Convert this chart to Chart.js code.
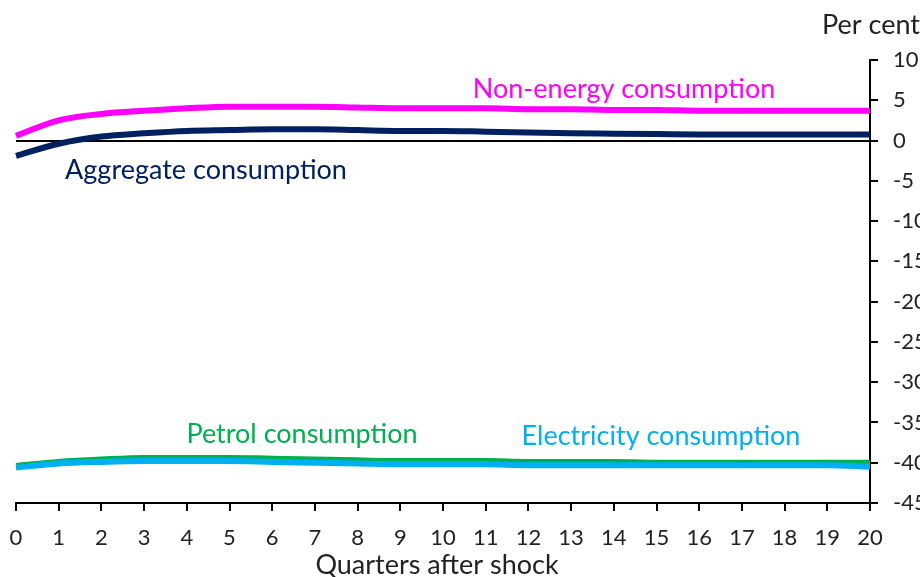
<!DOCTYPE html>
<html>
<head>
<meta charset="utf-8">
<script src="https://cdn.jsdelivr.net/npm/chart.js@4"></script>
<style>
  body { margin: 0; background: #fff; }
  #wrap { width: 920px; height: 577px; }
</style>
</head>
<body>
<div id="wrap"><canvas id="chart" width="920" height="577"></canvas></div>
<script>
// Quarters after shock
const quarters = ["0","1","2","3","4","5","6","7","8","9","10","11","12","13","14","15","16","17","18","19","20"];

// Per cent deviation
const nonEnergy   = [0.6, 2.5, 3.3, 3.7, 4.0, 4.2, 4.2, 4.2, 4.1, 4.0, 4.0, 4.0, 3.9, 3.9, 3.8, 3.8, 3.7, 3.7, 3.7, 3.7, 3.7];
const aggregate   = [-1.9, -0.4, 0.5, 0.9, 1.2, 1.3, 1.4, 1.4, 1.3, 1.2, 1.2, 1.1, 1.0, 0.9, 0.85, 0.8, 0.75, 0.75, 0.75, 0.75, 0.75];
const petrol      = [-40.4, -39.9, -39.6, -39.4, -39.4, -39.4, -39.5, -39.6, -39.7, -39.8, -39.8, -39.8, -39.9, -39.9, -39.9, -40.0, -40.0, -40.0, -40.0, -40.0, -40.0];
const electricity = [-40.6, -40.1, -39.9, -39.8, -39.8, -39.8, -39.9, -40.0, -40.1, -40.2, -40.2, -40.2, -40.3, -40.3, -40.3, -40.3, -40.3, -40.3, -40.3, -40.3, -40.5];

const yTicks = [10, 5, 0, -5, -10, -15, -20, -25, -30, -35, -40, -45];

const FONT = "Lato, 'Open Sans', sans-serif";

// texte sur le graphique (étiquettes des séries, titres)
const labelsPlugin = {
    id: "labels",
    afterDraw(chart) {
        const ctx = chart.ctx;
        ctx.save();
        ctx.textBaseline = "middle";
        ctx.font = "27px " + FONT;
        ctx.textAlign = "center";
        ctx.fillStyle = "#FF00FF";
        ctx.fillText("Non-energy consumption", 624, 89);
        ctx.fillStyle = "#002060";
        ctx.fillText("Aggregate consumption", 206, 170);
        ctx.fillStyle = "#00B050";
        ctx.fillText("Petrol consumption", 302, 434);
        ctx.fillStyle = "#00B0F0";
        ctx.fillText("Electricity consumption", 661, 436);
        ctx.fillStyle = "#222";
        ctx.fillText("Quarters after shock", 437, 565);
        ctx.textAlign = "left";
        ctx.fillText("Per cent", 822, 25);
        ctx.restore();
    }
};

const ctx = document.getElementById("chart").getContext("2d");
new Chart(ctx, {
    type: "line",
    data: {
        labels: quarters,
        datasets: [
            { label: "Non-energy consumption", data: nonEnergy, borderColor: "#FF00FF" },
            { label: "Aggregate consumption", data: aggregate, borderColor: "#002060" },
            { label: "Electricity consumption", data: electricity, borderColor: "#00B0F0" },
            { label: "Petrol consumption", data: petrol, borderColor: "#00B050" }
        ]
    },
    options: {
        responsive: false,
        animation: false,
        layout: { padding: { left: 16, top: 60, right: 0, bottom: 0 } },
        elements: {
            line: { borderWidth: 6, tension: 0.4, cubicInterpolationMode: "monotone" },
            point: { radius: 0 }
        },
        plugins: {
            legend: { display: false },
            tooltip: { enabled: false }
        },
        scales: {
            x: {
                offset: false,
                grid: { drawOnChartArea: false, tickLength: 8, tickColor: "#000", lineWidth: 2 },
                border: { color: "#000", width: 2 },
                ticks: { color: "#222", font: { family: FONT, size: 22 }, padding: 14, maxRotation: 0, autoSkip: false },
                afterFit(scale) {
                    scale.height = 74;
                    scale.paddingLeft = 0; // sinon le padding des ticks décale le bord gauche
                    scale.paddingRight = 0;
                }
            },
            y: {
                position: "right",
                min: -45,
                max: 10,
                afterBuildTicks(scale) { scale.ticks = yTicks.map(v => ({ value: v })); },
                grid: {
                    color: c => (c.tick && c.tick.value === 0 ? "#000" : "rgba(0,0,0,0)"),
                    lineWidth: 2,
                    tickColor: "#000",
                    tickLength: 8
                },
                border: { color: "#000", width: 2 },
                ticks: { color: "#222", font: { family: FONT, size: 22 }, padding: 15 },
                afterFit(scale) { scale.width = 50; }
            }
        }
    },
    plugins: [labelsPlugin]
});
</script>
</body>
</html>
